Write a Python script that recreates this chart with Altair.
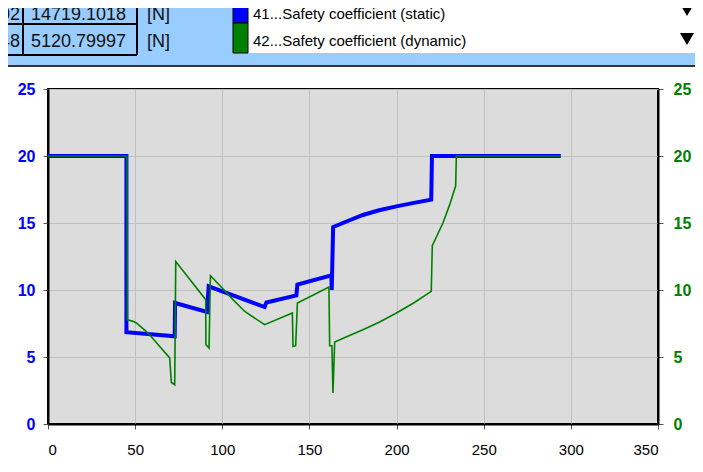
import altair as alt
import pandas as pd

# ---------------- data ----------------
x_ticks = [0, 50, 100, 150, 200, 250, 300, 350]
y_ticks = [0, 5, 10, 15, 20, 25]

static_x = [0, 45.0, 45.0, 72.7, 72.9, 91.2, 92.2, 124.3, 125.3, 142.5, 143.1,
            162.6, 162.8, 163.6, 172, 180.7, 190, 199.9, 210, 219.9, 220.3, 294.2]
static_y = [20, 20, 6.85, 6.54, 9.03, 8.36, 10.27, 8.73, 9.07, 9.6, 10.4,
            11.09, 10.0, 14.7, 15.15, 15.6, 15.95, 16.24, 16.5, 16.74, 20, 20]

dynamic_x = [0, 45.3, 45.5, 48.8, 50.7, 55.5, 58.3, 64, 69.8, 70.8, 72.7, 73.3,
             90.5, 90.6, 92.4, 93.2, 100, 106, 112.9, 124.3, 140.2, 140.6, 142.1,
             143.1, 161.2, 161.6, 162.9, 163.5, 164.5, 172, 180.7, 190, 199.9,
             210, 219.9, 220.5, 226.6, 230.5, 233.9, 234.3, 294.2]
dynamic_y = [20, 20, 7.78, 7.66, 7.54, 7.0, 6.66, 5.8, 4.93, 3.1, 2.93, 12.13,
             9.28, 5.92, 5.67, 11.07, 10.15, 9.3, 8.4, 7.41, 8.28, 5.79, 5.84,
             9.03, 10.22, 5.84, 5.84, 2.31, 6.12, 6.55, 7.04, 7.6, 8.28,
             9.05, 9.9, 13.3, 15.0, 16.37, 17.78, 20, 20]

table_row1 = ["02", "14719.1018", "[N]"]
table_row2 = ["48", "5120.79997", "[N]"]
legend_labels = ["41...Safety coefficient (static)", "42...Safety coefficient (dynamic)"]
series_colors = ["#0000FF", "#008000"]

# ---------------- helpers ----------------
W, H = 610, 335
FONT = "Liberation Sans"
one = pd.DataFrame({"k": [0]})


def rect(x, x2, y, y2, **kw):
    return alt.Chart(one).mark_rect(**kw).encode(
        x=alt.value(x), x2=alt.value(x2), y=alt.value(y), y2=alt.value(y2))


def hrule(x, x2, y, **kw):
    return alt.Chart(one).mark_rule(**kw).encode(
        x=alt.value(x), x2=alt.value(x2), y=alt.value(y))


def vrule(x, y, y2, **kw):
    return alt.Chart(one).mark_rule(**kw).encode(
        x=alt.value(x), y=alt.value(y), y2=alt.value(y2))


def label(txt, x, y, align="left", size=15, color="#000000"):
    return alt.Chart(one).mark_text(
        align=align, baseline="middle", font=FONT, fontSize=size, color=color
    ).encode(x=alt.value(x), y=alt.value(y), text=alt.value(txt))


def tri(x, y):
    return alt.Chart(one).mark_point(
        shape="triangle-down", size=196, filled=True, color="#000000", opacity=1
    ).encode(x=alt.value(x), y=alt.value(y))


# ---------------- top band ----------------
deco = [
    rect(-60, 670, -95, -23, color="#99CCFF"),
    hrule(-60, 660, -23, color="#333333", strokeWidth=2),
    # table grid
    vrule(-25, -95, -34, color="#000000", strokeWidth=2),
    vrule(89, -95, -34, color="#000000", strokeWidth=2),
    hrule(-60, 89, -65, color="#000000", strokeWidth=2),
    hrule(-60, 89, -34, color="#000000", strokeWidth=2),
    label(table_row1[0], -28, -74.5, align="right", size=18, color="#111111"),
    label(table_row1[1], -17, -74.5, size=18, color="#111111"),
    label(table_row1[2], 99, -74.5, size=18, color="#111111"),
    label(table_row2[0], -28, -47, align="right", size=18, color="#111111"),
    label(table_row2[1], -17, -47, size=18, color="#111111"),
    label(table_row2[2], 99, -47, size=18, color="#111111"),
    # legend
    rect(200, 660, -95, -36, color="#FFFFFF"),
    rect(185, 200, -95, -66, color=series_colors[0], stroke="#000000", strokeWidth=1),
    rect(185, 200, -66, -36, color=series_colors[1], stroke="#000000", strokeWidth=1),
    label(legend_labels[0], 205, -75.5),
    label(legend_labels[1], 205, -48.5),
    tri(639, -79),
    tri(639, -50),
]

# ---------------- data series ----------------
df_s = pd.DataFrame({"x": static_x, "y": static_y, "i": list(range(len(static_x)))})
df_d = pd.DataFrame({"x": dynamic_x, "y": dynamic_y, "i": list(range(len(dynamic_x)))})

xscale = alt.Scale(domain=[0, 350], nice=False)
yscale = alt.Scale(domain=[0, 25], nice=False)

x_axis = alt.Axis(values=x_ticks, title=None, labelFont=FONT, labelFontSize=15,
                  labelColor="#000000", tickSize=5, tickColor="#555555",
                  labelPadding=13, domainColor="#000000", domainWidth=2,
                  grid=True, gridColor="#C0C0C0", gridWidth=1)
left_axis = alt.Axis(values=y_ticks, orient="left", title=None, labelFont=FONT,
                     labelFontSize=16, labelFontWeight="bold",
                     labelColor=series_colors[0], tickSize=5, tickColor="#555555",
                     labelPadding=8, domainColor="#000000", domainWidth=2,
                     grid=True, gridColor="#C0C0C0", gridWidth=1)
right_axis = alt.Axis(values=y_ticks, orient="right", title=None, labelFont=FONT,
                      labelFontSize=16, labelFontWeight="bold",
                      labelColor=series_colors[1], tickSize=5, tickColor="#555555",
                      labelPadding=10, domainColor="#000000", domainWidth=2,
                      grid=False)

blue = alt.Chart(df_s).mark_line(color=series_colors[0], strokeWidth=4).encode(
    x=alt.X("x:Q", scale=xscale, axis=x_axis),
    y=alt.Y("y:Q", scale=yscale, axis=left_axis),
    order="i:Q",
)
green = alt.Chart(df_d).mark_line(color=series_colors[1], strokeWidth=1.6).encode(
    x=alt.X("x:Q", scale=xscale, axis=x_axis),
    y=alt.Y("y:Q", scale=yscale, axis=right_axis),
    order="i:Q",
)

chart = alt.layer(*deco, blue, green).resolve_scale(y="independent").properties(
    width=W, height=H,
    padding={"left": 40, "top": 81, "right": 37, "bottom": 40},
    autosize=alt.AutoSizeParams(type="none"),
    background="#FFFFFF",
).configure_view(fill="#DCDCDC", stroke="#000000", strokeWidth=2)

chart.save("out.html", embed_options={"renderer": "svg", "actions": False})
